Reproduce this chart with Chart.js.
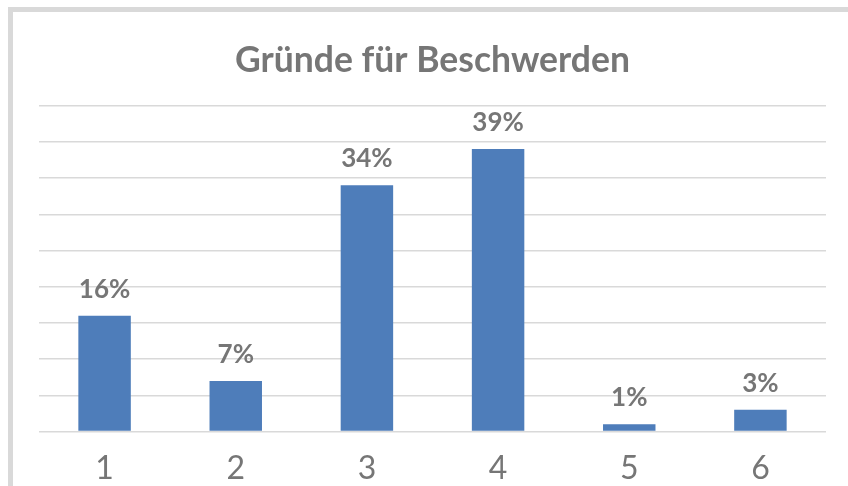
<!DOCTYPE html>
<html>
<head>
<meta charset="utf-8">
<script src="https://cdn.jsdelivr.net/npm/chart.js@4/dist/chart.umd.min.js"></script>
<style>
  html, body { margin: 0; padding: 0; background: #ffffff; overflow: hidden; }
  #frame { position: absolute; left: 8px; top: 7px; width: 900px; height: 600px;
           border-left: 5px solid #d9d9d9; border-top: 5px solid #d9d9d9; box-sizing: border-box; }
  #wrap { position: absolute; left: 0; top: 0; width: 848px; height: 506px; }
</style>
</head>
<body>
<div id="frame"></div>
<div id="wrap"><canvas id="c" width="848" height="506"></canvas></div>
<script>
const categories = ['1', '2', '3', '4', '5', '6'];
const values = [16, 7, 34, 39, 1, 3];
const valueLabels = ['16%', '7%', '34%', '39%', '1%', '3%'];
const chartTitle = 'Gründe für Beschwerden';

const textColor = '#767676';

const barLabels = {
  id: 'barLabels',
  afterDatasetsDraw(chart) {
    const ctx = chart.ctx;
    const meta = chart.getDatasetMeta(0);
    ctx.save();
    ctx.font = 'bold 26px Lato';
    ctx.fillStyle = textColor;
    ctx.textAlign = 'center';
    ctx.textBaseline = 'alphabetic';
    meta.data.forEach((bar, i) => {
      ctx.fillText(valueLabels[i], bar.x, bar.y - 18);
    });
    ctx.restore();
  }
};

new Chart(document.getElementById('c'), {
  type: 'bar',
  data: {
    labels: categories,
    datasets: [{
      data: values,
      backgroundColor: '#4e7dba',
      borderWidth: 0,
      barPercentage: 0.4,
      categoryPercentage: 1.0
    }]
  },
  options: {
    responsive: false,
    animation: false,
    devicePixelRatio: 1,
    layout: { padding: { left: 39, right: 22, top: 0, bottom: 0 } },
    plugins: {
      legend: { display: false },
      tooltip: { enabled: false },
      title: {
        display: true,
        text: chartTitle,
        color: textColor,
        font: { family: 'Lato', size: 35.5, weight: 'bold' },
        padding: { top: 39, bottom: 24 }
      }
    },
    scales: {
      x: {
        grid: { display: false, drawTicks: false },
        border: { display: false },
        ticks: { color: textColor, font: { family: 'Lato', size: 32 }, padding: 18 }
      },
      y: {
        min: 0, max: 45,
        ticks: { display: false, stepSize: 5 },
        grid: { color: '#d9d9d9', lineWidth: 1.5, drawTicks: false },
        border: { display: false }
      }
    }
  },
  plugins: [barLabels]
});
</script>
</body>
</html>
